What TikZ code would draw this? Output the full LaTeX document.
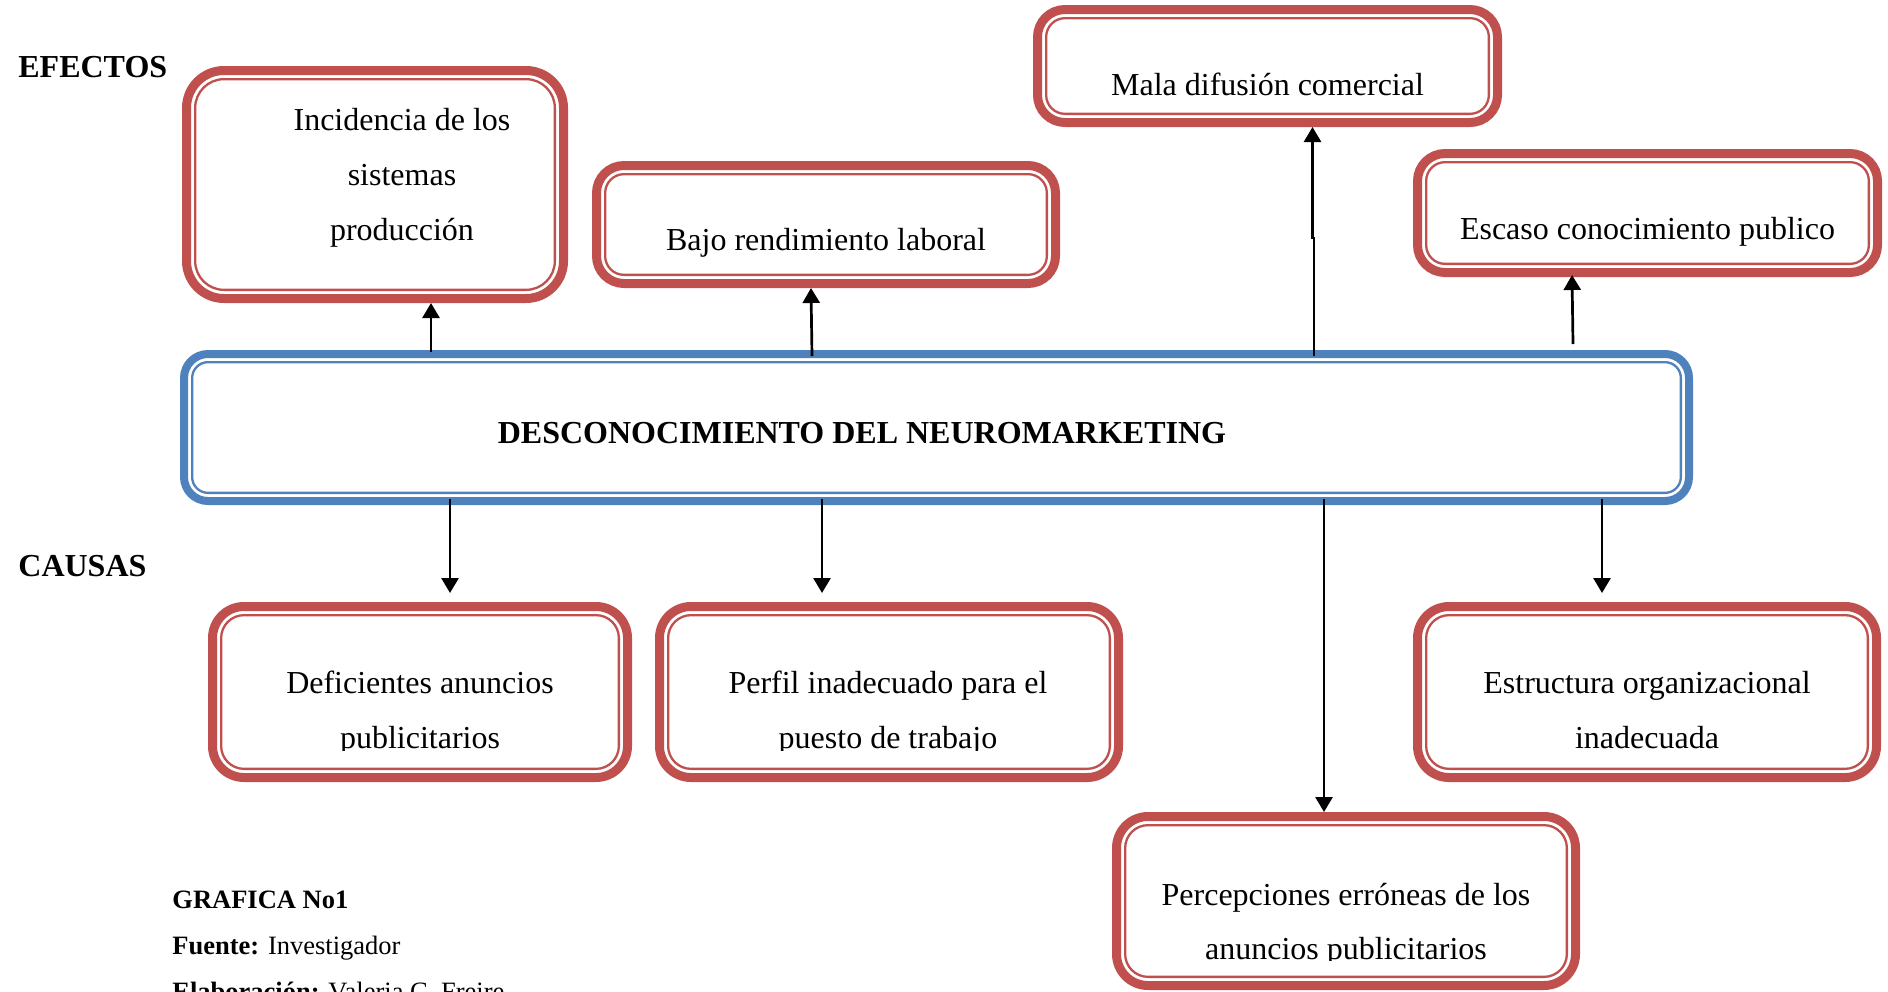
\documentclass[tikz,border=0pt]{standalone}
\usepackage{fontspec}
\setmainfont{Liberation Serif}
\usetikzlibrary{arrows.meta}
\definecolor{framered}{HTML}{C0504D}
\definecolor{frameblue}{HTML}{4F81BD}
\tikzset{
  area/.style={draw=none, inner sep=0pt, outer sep=0pt, rectangle},
  txt/.style={inner sep=0pt, anchor=base, font=\fontsize{16pt}{19pt}\selectfont},
  foot/.style={inner sep=0pt, anchor=base west, font=\fontsize{13.25pt}{16pt}\selectfont},
  arr/.style={line width=1.35pt, -{Triangle[width=8.5pt,length=7.5pt]}},
}
% thick-thin rounded frame drawn inside a node's outline
% #1 node, #2 colour, #3 thick line (px), #4 outer corner radius (px)
\newcommand\ringframe[4]{%
  \pgfmathsetmacro\rfa{#3/2}%
  \pgfmathsetmacro\rfb{#3+4.15}%
  \pgfmathsetmacro\rflw{#3/2}%
  \pgfmathsetmacro\rfra{(#4-#3/2)/2}%
  \pgfmathsetmacro\rfrb{max((#4-#3-4.15)/2,1)}%
  \draw[#2, line width=\rflw pt, rounded corners=\rfra pt]
    ([shift={(\rfa,\rfa)}]#1.north west) rectangle ([shift={(-\rfa,-\rfa)}]#1.south east);
  \draw[#2, line width=1.15pt, rounded corners=\rfrb pt]
    ([shift={(\rfb,\rfb)}]#1.north west) rectangle ([shift={(-\rfb,-\rfb)}]#1.south east);
}
\begin{document}
\begin{tikzpicture}[x=0.5pt, y=-0.5pt]
\useasboundingbox (0,0) rectangle (1888,991);
\clip (0,0) rectangle (1888,991);
\fill[white] (0,0) rectangle (1888,991);

% box outlines
\node[area, minimum width=193pt, minimum height=118.5pt] (inc) at (375,184.5) {};
\node[area, minimum width=234pt, minimum height=63.5pt] (bajo) at (826,224.5) {};
\node[area, minimum width=234.5pt, minimum height=61pt] (mala) at (1267.5,66) {};
\node[area, minimum width=234.5pt, minimum height=64pt] (escaso) at (1647.5,213) {};
\node[area, minimum width=756.5pt, minimum height=77.5pt] (central) at (936.5,427.5) {};
\node[area, minimum width=212pt, minimum height=90pt] (defi) at (420,692) {};
\node[area, minimum width=234pt, minimum height=90pt] (perfil) at (889,692) {};
\node[area, minimum width=234pt, minimum height=90pt] (estr) at (1647,692) {};
\node[area, minimum width=234pt, minimum height=89pt] (perc) at (1346,901) {};

\ringframe{inc}{framered}{9}{42}
\ringframe{bajo}{framered}{9}{32}
\ringframe{mala}{framered}{9}{32}
\ringframe{escaso}{framered}{9}{32}
\ringframe{central}{frameblue}{8}{28}
\ringframe{defi}{framered}{9}{36}
\ringframe{perfil}{framered}{9}{36}
\ringframe{estr}{framered}{9}{36}
\ringframe{perc}{framered}{9}{36}

% side labels
\node[txt, anchor=base west, font=\fontsize{16pt}{19pt}\selectfont\bfseries] (efectos) at (18,77) {EFECTOS};
\node[txt, anchor=base west, font=\fontsize{16pt}{19pt}\selectfont\bfseries] (causas) at (18,576) {CAUSAS};

% effects
\node[txt] (inc1) at (402,130) {Incidencia de los};
\node[txt] (inc2) at (402,185) {sistemas};
\node[txt] (inc3) at (402,240) {producción};
\node[txt] (bajot) at (826,250) {Bajo rendimiento laboral};
\node[txt] (malat) at (1267.5,95) {Mala difusión comercial};
\node[txt] (escasot) at (1647.5,239) {Escaso conocimiento publico};

% central problem
\node[txt, font=\fontsize{16pt}{19pt}\selectfont\bfseries] (centralt) at (862,443) {DESCONOCIMIENTO DEL NEUROMARKETING};

% causes
\node[txt] (defi1) at (420,693) {Deficientes anuncios};
\node[txt] (perfil1) at (888,693) {Perfil inadecuado para el};
\node[txt] (estr1) at (1647,693) {Estructura organizacional};
\node[txt] (estr2) at (1647,748) {inadecuada};
\node[txt] (perc1) at (1346,905) {Percepciones erróneas de los};
\begin{scope}
  \clip (208,602) rectangle (1123,750.5);
  \node[txt] (defi2) at (420,748) {publicitarios};
  \node[txt] (perfil2) at (888,748) {puesto de trabajo};
\end{scope}
\begin{scope}
  \clip (1112,812) rectangle (1580,960.5);
  \node[txt] (perc2) at (1346,959) {anuncios publicitarios};
\end{scope}

% connectors: effects
\draw[arr] ([shift={(-505.5,2)}]central.north) -- ([shift={(56,0)}]inc.south);
\draw[arr] ([shift={(-124.5,6)}]central.north) -- ([shift={(-15,0)}]bajo.south);
\draw[arr] ([shift={(377.5,6)}]central.north) -- ++(0,-118) -- ++(-1.5,0) -- ([shift={(45,0)}]mala.south);
\draw[arr] ([shift={(636.5,-6)}]central.north) -- ([shift={(-75.5,-2)}]escaso.south);

% connectors: causes
\draw[arr] ([shift={(-486.5,-6)}]central.south) -- ([shift={(30,-9)}]defi.north);
\draw[arr] ([shift={(-114.5,-6)}]central.south) -- ([shift={(-67,-9)}]perfil.north);
\draw[arr] ([shift={(387.5,-6)}]central.south) -- ([shift={(-22,0)}]perc.north);
\draw[arr] ([shift={(665.5,-6)}]central.south) -- ([shift={(-45,-9)}]estr.north);

% source notes
\node[foot] (grafica) at (172,908) {\bfseries GRAFICA No1};
\node[foot] (fuente) at (172,954) {\textbf{Fuente:} Investigador};
\node[foot] (elab) at (172,1000) {\textbf{Elaboración:} Valeria C. Freire};
\end{tikzpicture}
\end{document}
